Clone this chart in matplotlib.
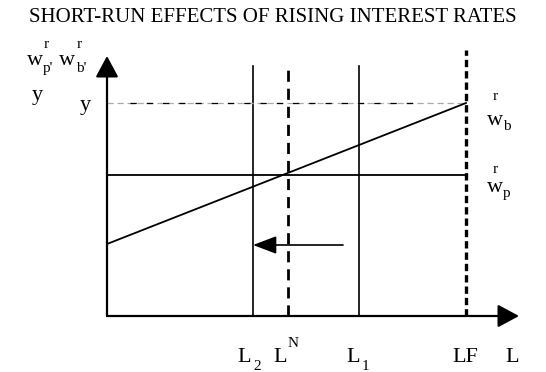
import matplotlib
matplotlib.use("Agg")
import matplotlib.pyplot as plt

plt.rcParams['font.family'] = ['Liberation Serif', 'DejaVu Serif']

# data (chart units: origin at axis crossing)
title = "SHORT-RUN EFFECTS OF RISING INTEREST RATES"
x_L2, x_LN, x_L1, x_LF = 146, 181, 252, 359
top_L = 250
top_LN = 248
top_LF = 266
y_top = 213          # level y
y_wp = 141           # w_p^r
wb_x = [0, 359]
wb_y = [72, 213]     # w_b^r line
arrow_y = 71
arrow_from, arrow_to = 236, 146
x_axis_end = 412
y_axis_end = 260

fig = plt.figure(figsize=(5.46, 3.72), dpi=100)
ax = fig.add_axes([0, 0, 1, 1])
ax.set_xlim(-107, 439)
ax.set_ylim(-56, 316)
ax.axis('off')

# axes with arrows
ax.annotate('', xy=(x_axis_end, 0), xytext=(0, 0),
            arrowprops=dict(arrowstyle='-|>,head_length=1.3,head_width=0.7', lw=1.6, color='black',
                            shrinkA=0, shrinkB=0))
ax.annotate('', xy=(0, y_axis_end), xytext=(0, 0),
            arrowprops=dict(arrowstyle='-|>,head_length=1.3,head_width=0.7', lw=1.6, color='black',
                            shrinkA=0, shrinkB=0))

# vertical lines
ax.plot([x_L2, x_L2], [0, top_L], color='black', lw=1.2)
ax.plot([x_L1, x_L1], [0, top_L], color='black', lw=1.2)
ax.plot([x_LN, x_LN], [0, top_LN], color='black', lw=2.0, dashes=(4, 2.5))
ax.plot([x_LF, x_LF], [0, top_LF], color='black', lw=2.4, dashes=(2.2, 1.2))

# horizontal y level
ax.plot([0, x_LF], [y_top, y_top], color='#aaaaaa', lw=0.9, dashes=(5, 3))
ax.plot([23, 306], [y_top, y_top], color='black', lw=0.9, dashes=(5, 8))

# w_p and w_b lines
ax.plot([0, x_LF], [y_wp, y_wp], color='black', lw=1.3)
ax.plot(wb_x, wb_y, color='black', lw=1.3)

# shift arrow
ax.annotate('', xy=(arrow_to, arrow_y), xytext=(arrow_from, arrow_y),
            arrowprops=dict(arrowstyle='-|>,head_length=1.45,head_width=0.55', lw=1.2, color='black',
                            shrinkA=0, shrinkB=0))

fs = 16
sfs = 11
# title
fig.text(0.5, 1 - 22 / 372, title, ha='center', va='baseline', fontsize=15)

# top-left labels
ax.text(-80, 251, 'w', fontsize=fs, ha='left', va='baseline')
ax.text(-64, 244, "p'", fontsize=sfs, ha='left', va='baseline')
ax.text(-63, 268, 'r', fontsize=sfs, ha='left', va='baseline')
ax.text(-48, 251, 'w', fontsize=fs, ha='left', va='baseline')
ax.text(-31, 244, "b'", fontsize=sfs, ha='left', va='baseline')
ax.text(-30, 268, 'r', fontsize=sfs, ha='left', va='baseline')
ax.text(-75, 216, 'y', fontsize=fs, ha='left', va='baseline')
ax.text(-27, 206, 'y', fontsize=fs, ha='left', va='baseline')

# right labels
ax.text(380, 191, 'w', fontsize=fs, ha='left', va='baseline')
ax.text(396, 186, 'b', fontsize=sfs, ha='left', va='baseline')
ax.text(386, 216, 'r', fontsize=sfs, ha='left', va='baseline')
ax.text(380, 124, 'w', fontsize=fs, ha='left', va='baseline')
ax.text(396, 119, 'p', fontsize=sfs, ha='left', va='baseline')
ax.text(386, 143, 'r', fontsize=sfs, ha='left', va='baseline')

# bottom labels
by = -46
ax.text(130, by, 'L', fontsize=fs, ha='left', va='baseline')
ax.text(146, by - 8, '2', fontsize=sfs, ha='left', va='baseline')
ax.text(166, by, 'L', fontsize=fs, ha='left', va='baseline')
ax.text(181, by + 15, 'N', fontsize=sfs, ha='left', va='baseline')
ax.text(239, by, 'L', fontsize=fs, ha='left', va='baseline')
ax.text(255, by - 8, '1', fontsize=sfs, ha='left', va='baseline')
ax.text(345, by, 'LF', fontsize=fs, ha='left', va='baseline')
ax.text(398, by, 'L', fontsize=fs, ha='left', va='baseline')

fig.savefig('out.png', dpi=100)
